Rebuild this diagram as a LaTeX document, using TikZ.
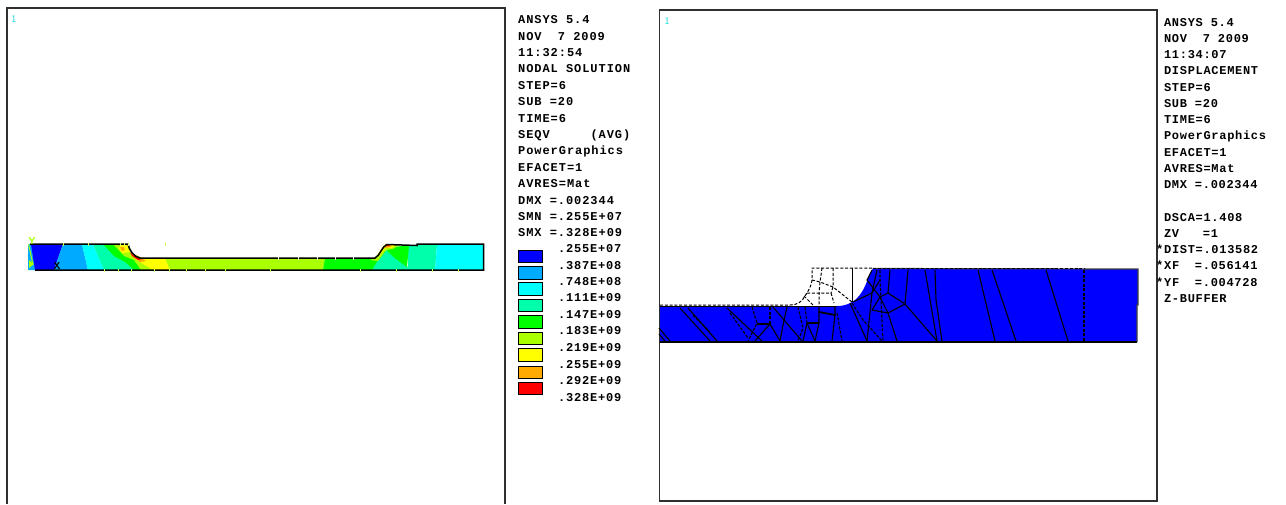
\documentclass[tikz,border=0pt]{standalone}
\usepackage{fontspec}
\newfontfamily\infoLfont[LetterSpace=7.8]{Liberation Mono Bold}
\newfontfamily\infoRfont[LetterSpace=5.8]{Liberation Mono Bold}
\newfontfamily\legfont[LetterSpace=6.7]{Liberation Mono Bold}
\definecolor{cA}{HTML}{0000FF}
\definecolor{cB}{HTML}{00AAFF}
\definecolor{cC}{HTML}{00FFFF}
\definecolor{cD}{HTML}{00FFAA}
\definecolor{cE}{HTML}{00FF00}
\definecolor{cF}{HTML}{AAFF00}
\definecolor{cG}{HTML}{FFFF00}
\definecolor{cH}{HTML}{FFAA00}
\definecolor{cI}{HTML}{FF0000}
\definecolor{frameC}{HTML}{303030}
\tikzset{
  panel/.style={draw=frameC,line width=1.6pt},
  infoleft/.style={inner sep=0pt,anchor=north west,align=left,font=\fontsize{12}{16.4}\selectfont\infoLfont},
  inforight/.style={inner sep=0pt,anchor=north west,align=left,font=\fontsize{12}{16.25}\selectfont\infoRfont},
  legtext/.style={inner sep=0pt,anchor=west,font=\fontsize{12}{14}\selectfont\legfont},
  swatch/.style={draw=black,line width=1pt},
  onetext/.style={inner sep=0pt,text=cC!85!black,font=\fontsize{10}{10}\selectfont\sffamily},
  axistext/.style={inner sep=0pt,font=\fontsize{10}{10}\selectfont\sffamily\bfseries},
  outline/.style={draw=black,line width=1.5pt},
  tick/.style={line width=1pt},
  meshl/.style={draw=black,line width=1.1pt},
  meshh/.style={draw=black,line width=1.8pt},
  meshd/.style={draw=black,line width=1.1pt,dash pattern=on 3pt off 1.5pt},
  undef/.style={draw=black,line width=1pt,dash pattern=on 3pt off 1.8pt},
}
\begin{document}
\begin{tikzpicture}[x=1pt,y=-1pt]
\useasboundingbox (0,0) rectangle (1286,504);
\fill[white] (0,0) rectangle (1286,504);

% ---- left panel ----
\draw[panel] (7,503.5) -- (7,8) -- (505,8) -- (505,503.5);
\node[onetext] (oneL) at (14,19) {1};

% stress bands
\fill[cB] (28,244) -- (32,244) -- (36,270) -- (28,270) -- cycle;
\fill[cA] (31,244) -- (63,244) -- (54,270) -- (35,270) -- cycle;
\fill[cB] (63,244) -- (82,244) -- (88,270) -- (54,270) -- cycle;
\fill[cC] (82,244) -- (93,244) -- (104,270) -- (88,270) -- cycle;
\fill[cD] (93,244) -- (103,244) -- (125,262) -- (134,270) -- (104,270) -- cycle;
\fill[cE] (103,244) -- (128,244) -- (130,254) -- (140,264) -- (141,270) -- (134,270) -- (125,262) -- (114,256) -- cycle;
\fill[cF] (113,244) -- (128,244) -- (130,252) -- (142,258) -- (156,259) -- (156,270) -- (141,270) -- (134,260) -- (124,256) -- cycle;
\fill[cG] (122,244) -- (127,244) -- (130,252) -- (122,253) -- (119,248) -- cycle;
\fill[cG] (130,255) -- (140,258) -- (165,258) -- (170,270) -- (153,270) -- (143,264) -- cycle;
\fill[cH] (120,247) -- (124,247) -- (125,250) -- (122,251) -- cycle;
\fill[cH] (131,254) -- (143,259) -- (146,261) -- (140,262) -- cycle;
\fill[cI] (130,252) .. controls (133,256) and (137,258) .. (142,259) -- (138,260) -- (132,256) -- cycle;
\fill[cF] (165,258) -- (325,258) -- (323,270) -- (170,270) -- cycle;
\fill[cE] (325,258) -- (375,258) -- (378,256) -- (387,250) -- (372,270) -- (323,270) -- cycle;
\fill[cD] (372,270) -- (377,262) -- (387,250) -- (408,267) -- (408,245) -- (437,245) -- (435,270) -- cycle;
\fill[cE] (386,248) -- (409,245) -- (407,267) -- (396,259) -- (387,251) -- cycle;
\fill[cF] (375,258) -- (384,246) -- (399,245) -- (393,249) -- (386,250) -- (378,261) -- (370,260) -- cycle;
\fill[cG] (376,257) -- (384,245) -- (395,245) -- (392,248) -- (385,248) -- (380,255) -- cycle;
\fill[cH] (385,244) -- (392,244) -- (391,247) -- (385,248) -- cycle;
\fill[cI] (386,244) -- (390,244) -- (389,246) -- (386,246) -- cycle;
\fill[cC] (437,245) -- (483,244) -- (483,270) -- (435,270) -- cycle;

% outline
\draw[outline] (30,244) -- (128,244) .. controls (129,250) and (134,257) .. (140,258)
  -- (375,258) .. controls (380,256) and (382,246) .. (387,244.5) -- (417,245.5) -- (417,244) -- (483.5,244) -- (483.5,270) -- (35,270);
\foreach \x in {63,88,120,124,128,165}
  \draw[tick,white!40!cF] (\x,242.5) -- (\x,245.5);
\foreach \x in {104,118,131,154,169,186,205,225,270,360,396,432,458}
  \draw[tick,white!40!cF] (\x,268.5) -- (\x,271.5);
\foreach \x in {278,298,317,335,353}
  \draw[tick,white] (\x,256.5) -- (\x,259.5);
\node[axistext,text=cF] (axY) at (32,241) {Y};
\node[axistext,text=black] (axX) at (57,266) {X};
\fill[cF] (29,260) -- (34,264) -- (29,268) -- cycle;
\draw[cF,line width=1pt] (28.5,244) -- (33,265);

% info text
\node[infoleft] (infoL) at (518,15.5) {ANSYS~5.4\\NOV~~7~2009\\11:32:54\\NODAL~SOLUTION\\STEP=6\\SUB~=20\\TIME=6\\SEQV~~~~~(AVG)\\PowerGraphics\\EFACET=1\\AVRES=Mat\\DMX~=.002344\\SMN~=.255E+07\\SMX~=.328E+09};

% legend
\foreach \n/\y/\c in {1/250/cA,2/266.5/cB,3/282.5/cC,4/299/cD,5/315.5/cE,6/332/cF,7/348.5/cG,8/366/cH,9/382/cI}
  \draw[swatch,fill=\c] (518,\y) rectangle (542,\y+12.5);
\foreach \n/\y/\t in {1/249/.255E+07,2/265.5/.387E+08,3/282/.748E+08,4/298/.111E+09,5/315/.147E+09,6/331/.183E+09,7/348/.219E+09,8/364.5/.255E+09,9/381/.292E+09,10/398/.328E+09}
  \node[legtext] (leg\n) at (558,\y) {\t};

% ---- right panel ----
\draw[panel,line width=1.3pt] (659.5,501) -- (659.5,10) -- (1157,10) -- (1157,501) -- cycle;
\node[onetext] (oneR) at (667,21) {1};

% deformed body
\fill[cA] (660,306) -- (837,306) .. controls (846,306) and (851,303) .. (855,300)
  .. controls (862,294) and (866,285) .. (868,278) -- (873,268) -- (878,269) -- (1138,269) -- (1138,305) -- (1137,305) -- (1137,342) -- (660,342) -- cycle;
\draw[line width=1.2pt,black!75] (873,268.5) -- (1138,269) -- (1138,305) -- (1137,305) -- (1137,342);
\draw[line width=1.5pt] (660,342) -- (1137,342);
\draw[line width=0.9pt] (660,306) -- (837,306);

% undeformed outline
\draw[undef] (660,305) -- (790,305) .. controls (797,305) and (802,302) .. (805,296) .. controls (809,290) and (812,284) .. (812,280) -- (812,268) -- (873,268);
\draw[undef] (873,268) -- (1085,268);
\draw[undef] (812,280) -- (820,282) -- (833,287) -- (852,302);
\draw[undef] (822,268) -- (820,282) -- (819,293) -- (819,306);
\draw[undef] (833,268) -- (833,287) -- (831,293);
\draw[undef] (807,293) -- (819,293) -- (831,293) -- (834,303);
\draw[undef] (804,296) -- (813,305);
\draw[line width=1pt] (852,268) -- (852,302);

% mesh, left part
\draw[meshl] (680,308) -- (710,341);
\draw[meshl] (688,308) -- (717,341);
\draw[meshd] (693,315) -- (710,332);
\draw[meshl] (659,328) -- (670,341);
\draw[meshl] (659,334) -- (665,341);
\draw[meshl] (727,308) -- (762,341);
\draw[meshd] (730,313) -- (748,338);
\draw[meshd] (752,307) -- (757,323) -- (748,341);
\draw[meshh] (757,324) -- (770,324);
\draw[meshd] (770,307) -- (770,324);
\draw[meshl] (770,324) -- (780,341);
\draw[meshl] (770,324) -- (755,341);
\draw[meshl] (773,307) -- (802,341);
\draw[meshl] (787,307) -- (783,325) -- (780,341);
\draw[meshd] (798,307) -- (803,328) -- (798,341);

% mesh, fillet part
\draw[meshd] (805,307) -- (807,323);
\draw[meshl] (807,323) -- (803,341);
\draw[meshh] (807,323) -- (819,323);
\draw[meshl] (807,323) -- (815,341);
\draw[meshl] (819,306) -- (819,323) -- (815,341);
\draw[meshh] (819,312) -- (835,315);
\draw[meshl] (835,306) -- (835,315) -- (832,341);
\draw[meshd] (837,313) -- (842,341);
\draw[meshl] (850,303) -- (867,341);
\draw[meshd] (852,303) -- (863,320) -- (882,341);
\draw[meshl] (872,293) -- (867,341);
\draw[meshl] (872,293) -- (853,302);
\draw[meshl] (872,293) -- (877,270);
\draw[meshl] (880,280) -- (872,293);
\draw[meshd] (880,270) -- (880,280) -- (883,341);
\draw[meshl] (872,270) -- (867,280) -- (880,297) -- (888,313) -- (897,341);
\draw[meshl] (880,297) -- (888,293) -- (905,304);
\draw[meshl] (890,270) -- (888,293);
\draw[meshl] (872,310) -- (888,313) -- (905,304);
\draw[meshl] (880,297) -- (872,310);

% mesh, right part
\draw[meshl] (908,270) -- (905,304) -- (937,341);
\draw[meshl] (925,270) -- (937,341);
\draw[meshl] (935,270) -- (936,300) -- (942,341);
\draw[meshl] (978,270) -- (995,341);
\draw[meshl] (992,270) -- (1016,341);
\draw[meshl] (1046,270) -- (1068,341);
\draw[meshd] (1084,270) -- (1084,341);

% info text
\node[inforight] (infoR) at (1156,18) {~ANSYS~5.4\\~NOV~~7~2009\\~11:34:07\\~DISPLACEMENT\\~STEP=6\\~SUB~=20\\~TIME=6\\~PowerGraphics\\~EFACET=1\\~AVRES=Mat\\~DMX~=.002344\\~\\~DSCA=1.408\\~ZV~~~=1\\*DIST=.013582\\*XF~~=.056141\\*YF~~=.004728\\~Z-BUFFER};
\end{tikzpicture}
\end{document}
